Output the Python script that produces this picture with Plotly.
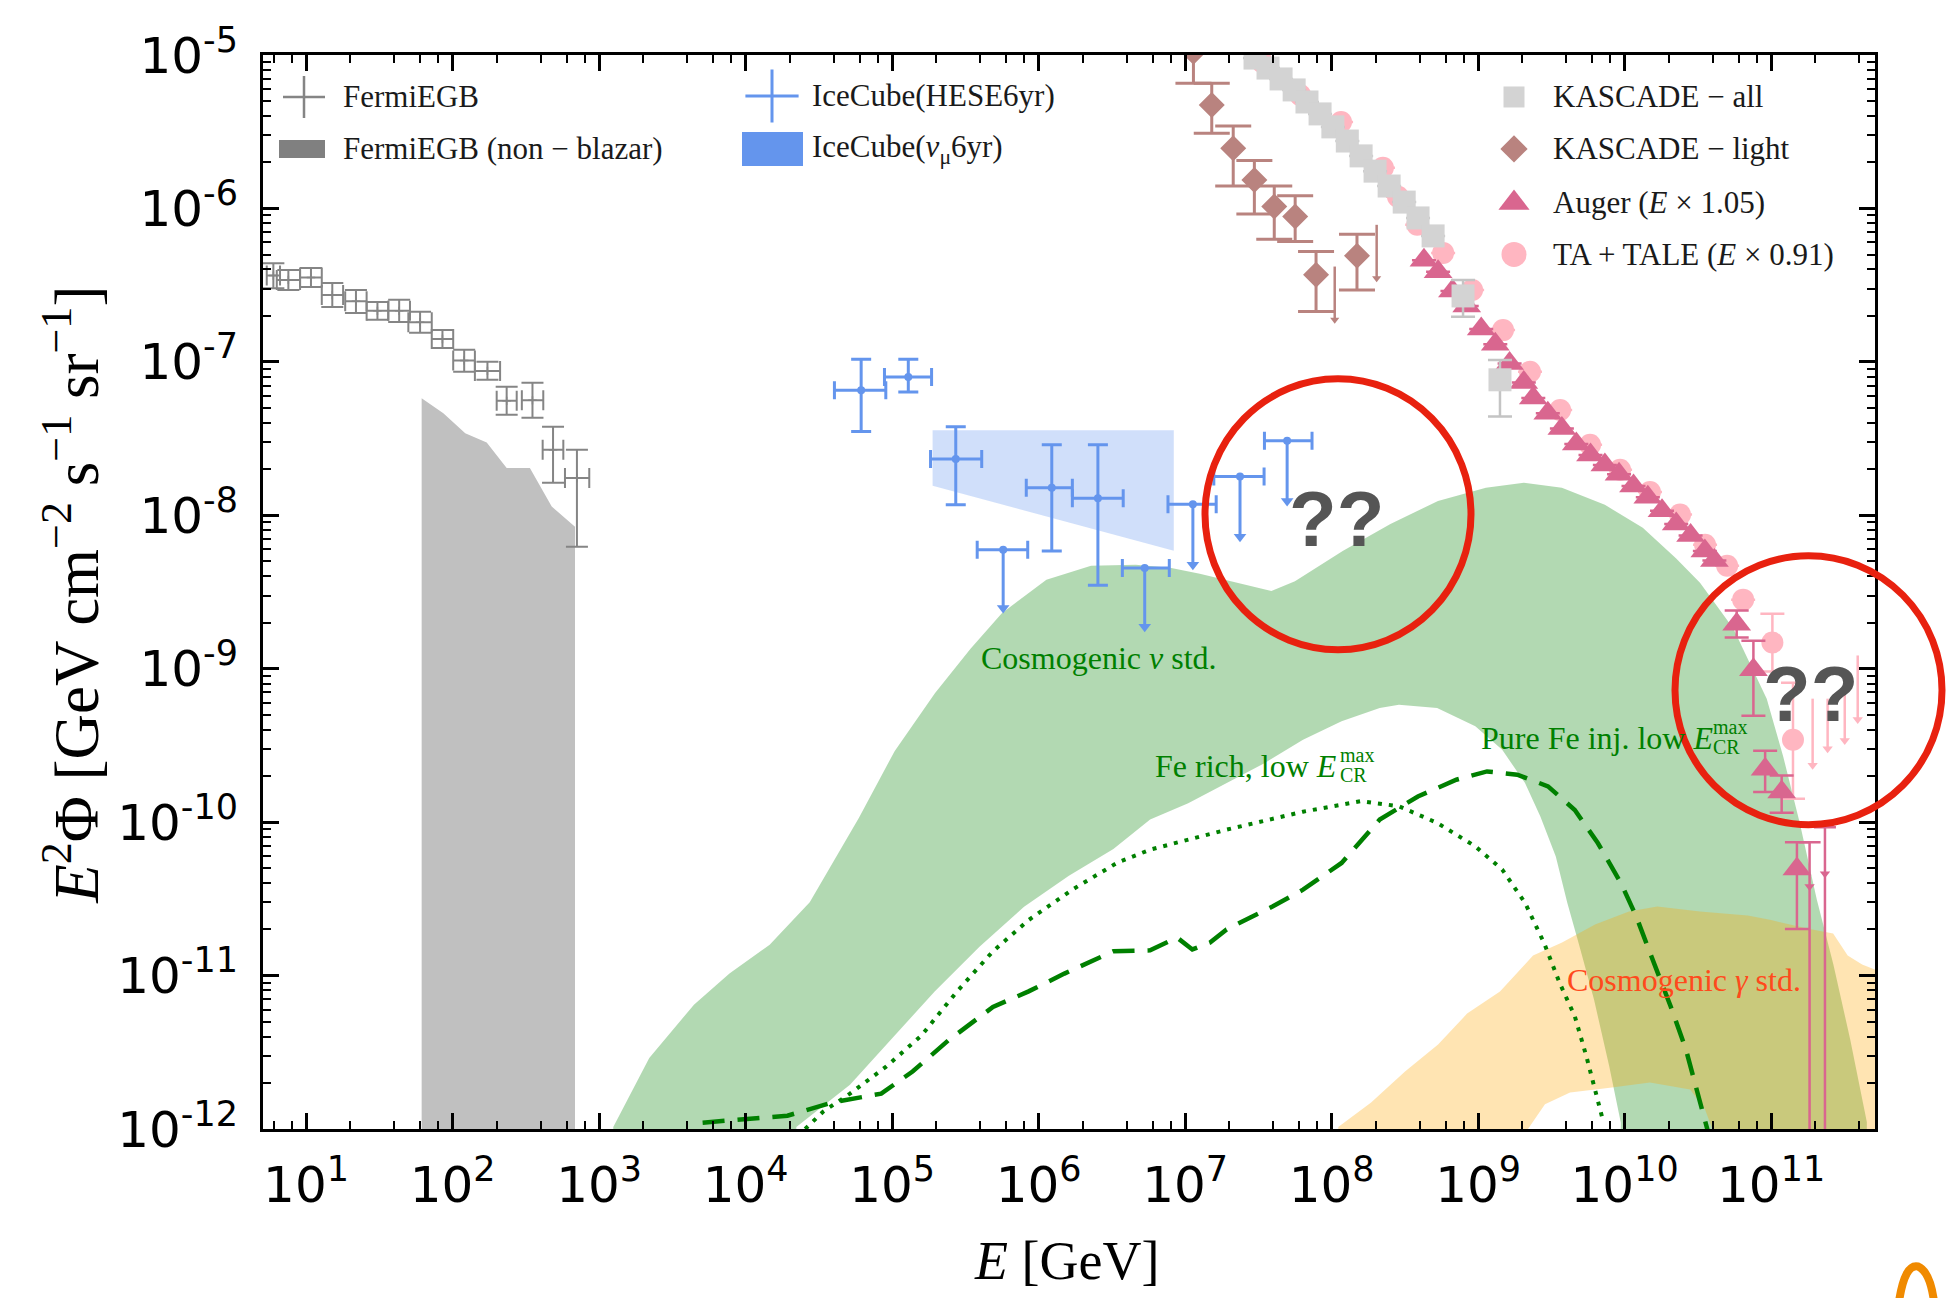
import plotly.graph_objects as go

# ---------------------------------------------------------------- data
# Fermi-LAT extragalactic gamma-ray background (GeV, GeV cm^-2 s^-1 sr^-1)
fermi_E = [5.98, 7.57, 10.8, 15.1, 21.9, 30.7, 43.2, 60.0, 85.3, 120, 173, 234, 351, 485, 706]
fermi_E_lo = [5.39, 6.31, 9.10, 12.8, 18.5, 25.9, 36.4, 49.9, 72.1, 101, 142, 200, 297, 412, 585]
fermi_E_hi = [6.64, 9.10, 12.8, 17.9, 25.9, 36.4, 51.2, 72.1, 101, 142, 211, 274, 416, 570, 857]
fermi_F = [3.65e-7, 3.42e-7, 3.55e-7, 2.73e-7, 2.48e-7, 2.15e-7, 2.15e-7, 1.81e-7,
           1.41e-7, 1.02e-7, 8.73e-8, 5.57e-8, 5.61e-8, 2.67e-8, 1.75e-8]
fermi_F_lo = [3.02e-7, 2.94e-7, 3.08e-7, 2.28e-7, 2.08e-7, 1.88e-7, 1.82e-7, 1.55e-7,
              1.23e-7, 8.61e-8, 7.64e-8, 4.52e-8, 4.32e-8, 1.63e-8, 6.24e-9]
fermi_F_hi = [4.40e-7, 3.97e-7, 4.09e-7, 3.27e-7, 2.94e-7, 2.46e-7, 2.54e-7, 2.12e-7,
              1.61e-7, 1.20e-7, 1.00e-7, 6.87e-8, 7.30e-8, 3.77e-8, 2.67e-8]

# Fermi EGB, non-blazar component (upper edge of the shaded region)
nonblazar_E = [61.5, 86.5, 122, 171, 234, 337, 475, 685]
nonblazar_F = [5.79e-8, 4.63e-8, 3.43e-8, 2.98e-8, 2.03e-8, 2.03e-8, 1.14e-8, 8.43e-9]

# IceCube HESE 6 yr: measured points
hese_E = [6.15e4, 1.29e5, 2.72e5, 1.23e6, 2.54e6]
hese_E_lo = [4.04e4, 8.87e4, 1.83e5, 8.24e5, 1.70e6]
hese_E_hi = [9.06e4, 1.86e5, 4.09e5, 1.70e6, 3.78e6]
hese_F = [6.53e-8, 7.98e-8, 2.33e-8, 1.51e-8, 1.29e-8]
hese_F_lo = [3.52e-8, 6.35e-8, 1.17e-8, 5.86e-9, 3.50e-9]
hese_F_hi = [1.04e-7, 1.04e-7, 3.78e-8, 2.88e-8, 2.88e-8]
# IceCube HESE 6 yr: upper limits
hese_ul_E = [5.73e5, 5.30e6, 1.13e7, 2.37e7, 4.97e7]
hese_ul_E_lo = [3.81e5, 3.73e6, 7.64e6, 1.57e7, 3.48e7]
hese_ul_E_hi = [8.43e5, 7.80e6, 1.63e7, 3.46e7, 7.35e7]
hese_ul_F = [5.97e-9, 4.53e-9, 1.18e-8, 1.79e-8, 3.06e-8]
hese_ul_tip = [2.49e-9, 1.88e-9, 4.76e-9, 7.24e-9, 1.24e-8]

# IceCube through-going nu_mu 6 yr band (edges)
numu_E = [1.89e5, 8.37e6]
numu_F_hi = [3.58e-8, 3.58e-8]
numu_F_lo = [1.56e-8, 5.87e-9]

# KASCADE light component
kl_E = [1.14e7, 1.52e7, 2.13e7, 2.97e7, 4.06e7, 5.64e7, 7.83e7, 1.49e8]
kl_F = [1.05e-5, 4.72e-6, 2.47e-6, 1.53e-6, 1.03e-6, 8.85e-7, 3.69e-7, 4.91e-7]
kl_F_lo = [6.55e-6, 3.09e-6, 1.40e-6, 9.20e-7, 6.30e-7, 6.08e-7, 2.13e-7, 2.94e-7]
kl_F_hi = [1.45e-5, 6.55e-6, 3.44e-6, 2.05e-6, 1.40e-6, 1.21e-6, 5.24e-7, 6.79e-7]
kl_ul_E = [1.05e8, 2.03e8]
kl_ul_F = [4.18e-7, 7.82e-7]
kl_ul_tip = [1.88e-7, 3.51e-7]

# KASCADE all-particle
ka_E = [3.00e7, 3.68e7, 4.52e7, 5.55e7, 6.79e7, 8.34e7, 1.02e8, 1.28e8,
        1.59e8, 1.98e8, 2.47e8, 3.13e8, 3.89e8, 4.93e8, 7.89e8, 1.41e9]
ka_F = [9.55e-6, 8.22e-6, 6.98e-6, 5.92e-6, 4.94e-6, 4.13e-6, 3.40e-6, 2.75e-6,
        2.20e-6, 1.75e-6, 1.40e-6, 1.10e-6, 8.67e-7, 6.62e-7, 2.69e-7, 7.64e-8]
ka_F_lo = ka_F[:14] + [1.97e-7, 4.41e-8]
ka_F_hi = ka_F[:14] + [3.42e-7, 1.03e-7]

# Pierre Auger (E x 1.05)
auger_E = [4.27e8, 5.33e8, 6.68e8, 8.36e8, 1.05e9, 1.31e9, 1.64e9, 2.05e9, 2.38e9,
           2.99e9, 3.73e9, 4.68e9, 5.85e9, 7.33e9, 9.16e9, 1.15e10, 1.44e10, 1.80e10,
           2.25e10, 2.82e10, 3.53e10, 4.10e10, 5.82e10, 7.57e10, 9.10e10, 1.18e11, 1.50e11]
auger_F = [4.60e-7, 3.87e-7, 2.90e-7, 2.31e-7, 1.64e-7, 1.30e-7, 9.77e-8, 7.33e-8, 5.82e-8,
           4.63e-8, 3.68e-8, 2.92e-8, 2.47e-8, 2.13e-8, 1.85e-8, 1.55e-8, 1.31e-8, 1.07e-8,
           8.77e-9, 7.38e-9, 5.86e-9, 5.08e-9, 1.95e-9, 9.84e-10, 2.21e-10, 1.57e-10, 4.95e-11]
auger_F_lo = auger_F[:22] + [1.60e-9, 4.94e-10, 1.57e-10, 1.15e-10, 2.01e-11]
auger_F_hi = auger_F[:22] + [2.40e-9, 1.52e-9, 2.92e-10, 2.01e-10, 7.40e-11]
# Auger bins whose lower error reaches zero
auger_open_E = [1.83e11, 2.33e11]
auger_open_F = [3.80e-11, 4.61e-11]
auger_open_hi = [7.40e-11, 9.27e-11]

# Telescope Array + TALE (E x 0.91)
ta_E = [3.35e7, 6.10e7, 1.16e8, 2.24e8, 2.84e8, 3.84e8, 5.77e8, 9.10e8, 1.48e9, 2.26e9,
        3.63e9, 5.81e9, 9.31e9, 1.49e10, 2.39e10, 3.54e10, 5.01e10, 6.44e10, 1.02e11, 1.41e11]
ta_F = [8.99e-6, 5.48e-6, 3.66e-6, 1.84e-6, 1.19e-6, 7.82e-7, 5.13e-7, 2.94e-7, 1.61e-7, 8.61e-8,
        4.86e-8, 2.88e-8, 1.98e-8, 1.42e-8, 1.01e-8, 6.43e-9, 4.69e-9, 2.82e-9, 1.48e-9, 3.44e-10]
ta_F_lo = ta_F[:18] + [9.60e-10, 1.42e-10]
ta_F_hi = ta_F[:18] + [2.28e-9, 8.11e-10]
ta_ul_E = [1.92e11, 2.43e11, 3.18e11, 3.90e11]
ta_ul_F = [6.38e-10, 6.38e-10, 6.78e-10, 1.22e-9]
ta_ul_tip = [2.35e-10, 3.01e-10, 3.41e-10, 4.66e-10]

# Cosmogenic neutrino band (standard scenarios)
nu_up_E = [1.25e3, 2.20e3, 4.44e3, 7.76e3, 1.46e4, 2.74e4, 3.64e4, 5.94e4, 1.04e5, 1.96e5,
           3.43e5, 5.61e5, 1.13e6, 2.28e6, 4.60e6, 7.89e6, 1.26e7, 2.67e7, 3.88e7, 5.62e7,
           1.19e8, 2.52e8, 5.32e8, 1.13e9, 2.05e9, 3.73e9, 7.33e9, 1.33e10, 2.24e10, 3.27e10,
           5.52e10, 9.33e10, 1.21e11, 1.57e11, 2.05e11, 2.66e11, 3.46e11, 4.50e11]
nu_up_F = [1.03e-12, 2.90e-12, 6.46e-12, 1.03e-11, 1.59e-11, 3.00e-11, 4.79e-11, 1.07e-10,
           2.90e-10, 6.92e-10, 1.35e-9, 2.30e-9, 3.80e-9, 4.69e-9, 4.76e-9, 4.55e-9, 4.16e-9,
           3.50e-9, 3.21e-9, 3.71e-9, 5.86e-9, 8.77e-9, 1.24e-8, 1.51e-8, 1.63e-8, 1.51e-8,
           1.17e-8, 8.30e-9, 5.24e-9, 3.63e-9, 1.83e-9, 6.38e-10, 2.67e-10, 9.84e-11, 3.13e-11,
           1.18e-11, 3.86e-12, 1.11e-12]
nu_lo_E = [2.22e4, 5.16e4, 9.70e4, 1.96e5, 3.95e5, 7.96e5, 1.61e6, 3.24e6, 5.77e6, 1.05e7,
           1.92e7, 3.50e7, 6.38e7, 1.17e8, 2.13e8, 2.88e8, 5.25e8, 9.57e8, 1.46e9, 2.09e9,
           2.66e9, 3.39e9, 4.06e9, 4.85e9, 6.18e9, 7.85e9, 9.42e9]
nu_lo_F = [1.03e-12, 1.94e-12, 3.78e-12, 7.89e-12, 1.54e-11, 2.81e-11, 4.48e-11, 6.68e-11,
           1.04e-10, 1.33e-10, 1.80e-10, 2.43e-10, 3.44e-10, 4.54e-10, 5.55e-10, 5.82e-10,
           5.55e-10, 4.21e-10, 2.96e-10, 1.80e-10, 1.09e-10, 5.98e-11, 2.98e-11, 1.63e-11,
           6.98e-12, 2.56e-12, 1.10e-12]

# Cosmogenic gamma-ray band (standard scenarios)
gam_up_E = [1.11e8, 1.86e8, 3.17e8, 5.33e8, 8.41e8, 1.41e9, 2.37e9, 3.74e9, 6.28e9, 1.07e10,
            1.67e10, 3.27e10, 6.92e10, 1.00e11, 1.83e11, 2.65e11, 3.33e11, 4.18e11, 5.05e11, 6.00e11]
gam_up_F = [1.03e-12, 1.49e-12, 2.37e-12, 3.55e-12, 5.65e-12, 7.87e-12, 1.35e-11, 1.64e-11,
            2.15e-11, 2.62e-11, 2.82e-11, 2.62e-11, 2.46e-11, 2.30e-11, 2.01e-11, 1.88e-11,
            1.35e-11, 1.18e-11, 1.10e-11, 1.05e-11]
gam_lo_E = [2.19e9, 2.86e9, 4.24e9, 7.94e9, 1.49e10, 2.80e10, 3.54e10, 3.95e10]
gam_lo_F = [1.00e-12, 1.45e-12, 1.73e-12, 1.86e-12, 2.01e-12, 1.81e-12, 1.34e-12, 1.01e-12]

# Fe rich, low E_CR^max (dotted)
ferich_E = [2.55e4, 3.39e4, 5.16e4, 9.06e4, 1.58e5, 2.78e5, 4.88e5, 8.55e5, 1.72e6, 3.48e6,
            5.77e6, 1.92e7, 6.38e7, 1.58e8, 2.88e8, 5.25e8, 9.57e8, 1.46e9, 2.09e9, 2.82e9,
            3.60e9, 4.57e9, 5.48e9, 6.37e9, 7.18e9]
ferich_F = [1.00e-12, 1.30e-12, 1.70e-12, 2.54e-12, 4.05e-12, 7.89e-12, 1.44e-11, 2.30e-11,
            3.66e-11, 5.47e-11, 6.62e-11, 8.93e-11, 1.17e-10, 1.37e-10, 1.27e-10, 9.89e-11,
            6.95e-11, 4.91e-11, 2.98e-11, 1.63e-11, 8.95e-12, 5.43e-12, 2.98e-12, 1.72e-12, 1.10e-12]

# Pure Fe injection, low E_CR^max (dashed)
pureFe_E = [5.09e3, 1.03e4, 1.93e4, 3.90e4, 8.43e4, 1.38e5, 2.42e5, 4.88e5, 8.55e5, 1.50e6,
            3.24e6, 5.77e6, 8.81e6, 1.12e7, 1.48e7, 1.92e7, 2.77e7, 3.95e7, 6.38e7, 1.17e8,
            2.13e8, 3.88e8, 7.10e8, 1.15e9, 1.85e9, 3.00e9, 4.57e9, 6.56e9, 9.42e9, 1.20e10,
            1.52e10, 2.06e10, 2.62e10, 3.33e10, 3.83e10]
pureFe_F = [1.10e-12, 1.17e-12, 1.22e-12, 1.49e-12, 1.70e-12, 2.37e-12, 3.78e-12, 6.24e-12,
            7.89e-12, 1.03e-11, 1.44e-11, 1.46e-11, 1.77e-11, 1.48e-11, 1.64e-11, 2.00e-11,
            2.39e-11, 2.82e-11, 3.63e-11, 5.42e-11, 1.04e-10, 1.47e-10, 1.89e-10, 2.14e-10,
            2.04e-10, 1.71e-10, 1.20e-10, 7.31e-11, 4.02e-11, 2.43e-11, 1.34e-11, 6.31e-12,
            3.30e-12, 1.41e-12, 8.55e-13]

x_tick_powers = list(range(1, 12))
y_tick_powers = list(range(-12, -4))

# ---------------------------------------------------------------- styling
FLOOR = 1e-15          # closes shaded regions below the visible axis
GREEN_LINE = "rgb(0,128,0)"
HESE_BLUE = "#6495ED"
FERMI_GRAY = "#858585"
KL_COLOR = "#b9837f"
KA_COLOR = "#d3d3d3"
AUGER_COLOR = "#d9668f"
TA_COLOR = "#ffb6c1"
SERIF = "Liberation Serif"
SANS = "DejaVu Sans"

# Plot frame in page pixels; used for legend, labels and callout placement
L, R, T, B = 263, 1875, 55, 1129.5


def px(x):
    return (x - L) / (R - L)


def py(y):
    return (B - y) / (B - T)


def asym(center, lo, hi):
    return dict(type="data", symmetric=False,
                array=[h - c for c, h in zip(center, hi)],
                arrayminus=[c - l for c, l in zip(center, lo)])


def segments(xs, y0s, y1s):
    X, Y = [], []
    for x, a, b in zip(xs, y0s, y1s):
        X += [x, x, None]
        Y += [a, b, None]
    return X, Y


fig = go.Figure()

# ---- shaded regions
fig.add_trace(go.Scatter(
    x=numu_E + numu_E[::-1], y=numu_F_hi + numu_F_lo[::-1],
    fill="toself", fillcolor="rgba(100,149,237,0.3)", line=dict(width=0), mode="lines",
    hoverinfo="skip"))

fig.add_trace(go.Scatter(
    x=[nonblazar_E[0]] + nonblazar_E + [nonblazar_E[-1]],
    y=[FLOOR] + nonblazar_F + [FLOOR],
    fill="toself", fillcolor="#c0c0c0", line=dict(width=0), mode="lines", hoverinfo="skip"))

fig.add_trace(go.Scatter(
    x=nu_up_E + [nu_up_E[-1], nu_lo_E[-1]] + nu_lo_E[::-1] + [nu_lo_E[0], nu_up_E[0]],
    y=nu_up_F + [FLOOR, FLOOR] + nu_lo_F[::-1] + [FLOOR, FLOOR],
    fill="toself", fillcolor="rgba(0,128,0,0.3)", line=dict(width=0), mode="lines",
    hoverinfo="skip"))

fig.add_trace(go.Scatter(
    x=gam_up_E + [gam_up_E[-1], gam_lo_E[-1]] + gam_lo_E[::-1] + [gam_lo_E[0], gam_up_E[0]],
    y=gam_up_F + [FLOOR, FLOOR] + gam_lo_F[::-1] + [FLOOR, FLOOR],
    fill="toself", fillcolor="rgba(255,165,0,0.3)", line=dict(width=0), mode="lines",
    hoverinfo="skip"))

# ---- model curves
fig.add_trace(go.Scatter(x=ferich_E, y=ferich_F, mode="lines",
                         line=dict(color=GREEN_LINE, width=4, dash="4px,7px")))
fig.add_trace(go.Scatter(x=pureFe_E, y=pureFe_F, mode="lines",
                         line=dict(color=GREEN_LINE, width=4.5, dash="22px,13px")))

# ---- Fermi EGB
fig.add_trace(go.Scatter(
    x=fermi_E, y=fermi_F, mode="markers",
    marker=dict(symbol="cross-thin", size=6, line=dict(width=1.5, color=FERMI_GRAY)),
    error_x=dict(asym(fermi_E, fermi_E_lo, fermi_E_hi), color=FERMI_GRAY, thickness=2, width=10),
    error_y=dict(asym(fermi_F, fermi_F_lo, fermi_F_hi), color=FERMI_GRAY, thickness=2, width=11)))

# ---- IceCube HESE
fig.add_trace(go.Scatter(
    x=hese_E, y=hese_F, mode="markers",
    marker=dict(symbol="circle", size=8, color=HESE_BLUE),
    error_x=dict(asym(hese_E, hese_E_lo, hese_E_hi), color=HESE_BLUE, thickness=3, width=9),
    error_y=dict(asym(hese_F, hese_F_lo, hese_F_hi), color=HESE_BLUE, thickness=3, width=10)))
fig.add_trace(go.Scatter(
    x=hese_ul_E, y=hese_ul_F, mode="markers",
    marker=dict(symbol="circle", size=8, color=HESE_BLUE),
    error_x=dict(asym(hese_ul_E, hese_ul_E_lo, hese_ul_E_hi), color=HESE_BLUE, thickness=3, width=9),
    error_y=dict(asym(hese_ul_F, hese_ul_tip, hese_ul_F), color=HESE_BLUE, thickness=3, width=0)))
fig.add_trace(go.Scatter(
    x=hese_ul_E, y=hese_ul_tip, mode="markers",
    marker=dict(symbol="triangle-down", size=11, color=HESE_BLUE)))

# ---- TA + TALE
sx, sy = segments(ta_ul_E, ta_ul_F, ta_ul_tip)
fig.add_trace(go.Scatter(x=sx, y=sy, mode="lines", line=dict(color=TA_COLOR, width=2.5)))
fig.add_trace(go.Scatter(x=ta_ul_E, y=ta_ul_tip, mode="markers",
                         marker=dict(symbol="triangle-down", size=9, color=TA_COLOR)))
fig.add_trace(go.Scatter(
    x=ta_E, y=ta_F, mode="markers",
    marker=dict(symbol="circle", size=22, color=TA_COLOR),
    error_y=dict(asym(ta_F, ta_F_lo, ta_F_hi), color=TA_COLOR, thickness=2.5, width=12)))

# ---- Auger
fig.add_trace(go.Scatter(
    x=auger_open_E, y=auger_open_F, mode="markers",
    marker=dict(symbol="triangle-down", size=9, color=AUGER_COLOR),
    error_y=dict(asym(auger_open_F, [FLOOR] * len(auger_open_F), auger_open_hi),
                 color=AUGER_COLOR, thickness=2.5, width=11)))
fig.add_trace(go.Scatter(
    x=auger_E, y=auger_F, mode="markers",
    marker=dict(symbol="triangle-up", size=25, color=AUGER_COLOR),
    error_y=dict(asym(auger_F, auger_F_lo, auger_F_hi), color=AUGER_COLOR, thickness=2.5, width=12)))

# ---- KASCADE all-particle
fig.add_trace(go.Scatter(
    x=ka_E, y=ka_F, mode="markers",
    marker=dict(symbol="square", size=23, color=KA_COLOR),
    error_y=dict(asym(ka_F, ka_F_lo, ka_F_hi), color="#c4c4c4", thickness=2.5, width=12)))

# ---- KASCADE light
sx, sy = segments(kl_ul_E, kl_ul_F, kl_ul_tip)
fig.add_trace(go.Scatter(x=sx, y=sy, mode="lines", line=dict(color=KL_COLOR, width=2.5)))
fig.add_trace(go.Scatter(x=kl_ul_E, y=kl_ul_tip, mode="markers",
                         marker=dict(symbol="triangle-down", size=8, color=KL_COLOR)))
fig.add_trace(go.Scatter(
    x=kl_E, y=kl_F, mode="markers",
    marker=dict(symbol="diamond", size=20, color=KL_COLOR),
    error_y=dict(asym(kl_F, kl_F_lo, kl_F_hi), color=KL_COLOR, thickness=3, width=18)))

# ---- legend glyphs (drawn on an overlay axis spanning the frame)
legend_glyphs = [
    (304, 97, dict(symbol="cross-thin", size=30, line=dict(width=2.5, color=FERMI_GRAY))),
    (772, 96, dict(symbol="cross-thin", size=38, line=dict(width=3, color=HESE_BLUE))),
    (1514, 97, dict(symbol="square", size=21, color=KA_COLOR)),
    (1514, 149, dict(symbol="diamond", size=21, color=KL_COLOR)),
    (1514, 203, dict(symbol="triangle-up", size=27, color=AUGER_COLOR)),
    (1514, 254.5, dict(symbol="circle", size=25, color=TA_COLOR)),
]
for gx, gy, mk in legend_glyphs:
    fig.add_trace(go.Scatter(x=[px(gx)], y=[py(gy)], mode="markers", marker=mk,
                             xaxis="x2", yaxis="y2", cliponaxis=False))

shapes = [
    dict(type="rect", xref="paper", yref="paper", x0=px(279), x1=px(325), y0=py(158), y1=py(140),
         fillcolor="#808080", line=dict(width=0)),
    dict(type="rect", xref="paper", yref="paper", x0=px(742), x1=px(803), y0=py(166), y1=py(132),
         fillcolor=HESE_BLUE, line=dict(width=0)),
    # red callout circles
    dict(type="circle", xref="paper", yref="paper", x0=px(1205), x1=px(1471), y0=py(650), y1=py(379),
         line=dict(color="#e8210f", width=7), layer="above"),
    dict(type="circle", xref="paper", yref="paper", x0=px(1675), x1=px(1942), y0=py(825), y1=py(556),
         line=dict(color="#e8210f", width=7), layer="above"),
    # small orange mark at the page corner
    dict(type="path", xref="paper", yref="paper",
         path=(f"M {px(1899)},{py(1302)} Q {px(1905)},{py(1264)} {px(1918)},{py(1267)} "
               f"Q {px(1930)},{py(1272)} {px(1934)},{py(1302)}"),
         line=dict(color="#f08a00", width=8), layer="above"),
]

legend_font = dict(family=SERIF, size=31, color="#1a1a1a")
legend_rows = [
    (341, 97, "FermiEGB"),
    (341, 149, "FermiEGB (non − blazar)"),
    (810, 96, "IceCube(HESE6yr)"),
    (810, 149, "IceCube(<i>ν</i><sub>μ</sub>6yr)"),
    (1551, 97, "KASCADE − all"),
    (1551, 149, "KASCADE − light"),
    (1551, 203, "Auger (<i>E</i> × 1.05)"),
    (1551, 254.5, "TA + TALE (<i>E</i> × 0.91)"),
]
annotations = [
    dict(x=px(tx), y=py(ty), xref="paper", yref="paper", text=t, showarrow=False,
         xanchor="left", yanchor="middle", font=legend_font)
    for tx, ty, t in legend_rows
]

label_font = dict(family=SERIF, size=32, color=GREEN_LINE)
script_font = dict(family=SERIF, size=20, color=GREEN_LINE)
annotations += [
    dict(x=px(979), y=py(658), text="Cosmogenic <i>ν</i> std.", font=label_font),
    dict(x=px(1153), y=py(766), text="Fe rich, low <i>E</i>", font=label_font),
    dict(x=px(1338), y=py(755), text="max", font=script_font),
    dict(x=px(1338), y=py(775), text="CR", font=script_font),
    dict(x=px(1479), y=py(738), text="Pure Fe inj. low <i>E</i>", font=label_font),
    dict(x=px(1711), y=py(727), text="max", font=script_font),
    dict(x=px(1711), y=py(747), text="CR", font=script_font),
    dict(x=px(1565), y=py(980), text="Cosmogenic <i>γ</i> std.",
         font=dict(family=SERIF, size=32, color="#ff4a1c")),
]
for a in annotations[-8:]:
    a.update(xref="paper", yref="paper", showarrow=False, xanchor="left", yanchor="middle")

# "??" marks inside the callouts
for cx, cy in [(1336, 519), (1810, 694)]:
    annotations.append(dict(x=px(cx), y=py(cy), xref="paper", yref="paper", text="<b>??</b>",
                            showarrow=False, xanchor="center", yanchor="middle",
                            font=dict(family="Liberation Sans", size=78, color="#555555")))

# axis titles
annotations.append(dict(x=px(1066), y=py(1262), xref="paper", yref="paper",
                        text="<i>E</i> [GeV]", showarrow=False, xanchor="center", yanchor="middle",
                        font=dict(family=SERIF, size=54, color="black")))
annotations.append(dict(x=px(72), y=py(595), xref="paper", yref="paper", textangle=-90,
                        text="<i>E</i><sup>2</sup>Φ [GeV cm<sup>−2</sup> s<sup>−1</sup> sr<sup>−1</sup>]",
                        showarrow=False, xanchor="center", yanchor="middle",
                        font=dict(family=SERIF, size=63, color="black")))

x_minor = [m * 10 ** k for k in range(0, 12) for m in (2, 4, 6, 8)]
y_minor = [m * 10.0 ** k for k in range(-12, -5) for m in range(2, 10)]

axis_common = dict(
    type="log", showline=True, linecolor="black", linewidth=3, mirror="allticks",
    ticks="inside", ticklen=16, tickwidth=2.5, tickcolor="black",
    showgrid=False, zeroline=False,
    tickfont=dict(family=SANS, size=50, color="black"),
)

fig.update_layout(
    width=1946, height=1298,
    margin=dict(l=L, r=1946 - R, t=T, b=1298 - B),
    paper_bgcolor="white", plot_bgcolor="white",
    showlegend=False,
    xaxis=dict(axis_common, range=[0.706, 11.709],
               tickvals=[10 ** k for k in x_tick_powers],
               ticktext=[f"10<sup>{k}</sup>" for k in x_tick_powers],
               ticklabelstandoff=10,
               minor=dict(tickvals=x_minor, ticks="inside", ticklen=8, tickwidth=2,
                          tickcolor="black", showgrid=False)),
    yaxis=dict(axis_common, range=[-12, -5],
               tickvals=[10.0 ** k for k in y_tick_powers],
               ticktext=[f"10<sup>{k}</sup>" for k in y_tick_powers],
               ticklabelstandoff=12,
               minor=dict(tickvals=y_minor, ticks="inside", ticklen=8, tickwidth=2,
                          tickcolor="black", showgrid=False)),
    xaxis2=dict(overlaying="x", anchor="y2", range=[0, 1], visible=False, fixedrange=True),
    yaxis2=dict(overlaying="y", anchor="x2", range=[0, 1], visible=False, fixedrange=True),
    shapes=shapes,
    annotations=annotations,
)

fig.write_html("out.html")
